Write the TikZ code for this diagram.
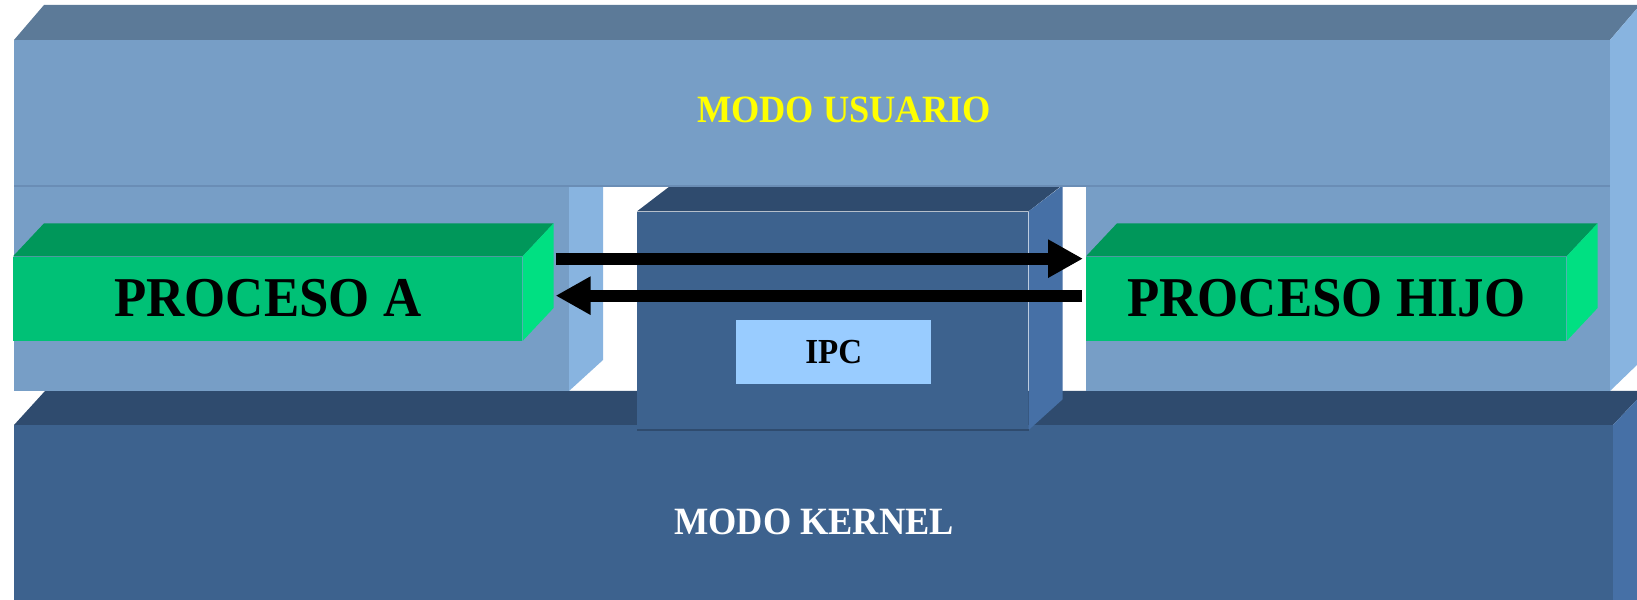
\documentclass[tikz,border=0pt]{standalone}
\usepackage{fontspec}
\setmainfont{Liberation Serif}[FakeStretch=0.94]
\usetikzlibrary{arrows.meta, positioning}

\definecolor{usuFront}{HTML}{779EC6}
\definecolor{usuTop}{HTML}{5C7A98}
\definecolor{usuSide}{HTML}{88B4E0}
\definecolor{usuLinea}{HTML}{6A8DB5}
\definecolor{kerFront}{HTML}{3D628E}
\definecolor{kerTop}{HTML}{2F4B6E}
\definecolor{kerSide}{HTML}{4670A6}
\definecolor{verdeFront}{HTML}{00C176}
\definecolor{verdeTop}{HTML}{00975A}
\definecolor{verdeSide}{HTML}{00E082}
\definecolor{ipcAzul}{HTML}{99CCFF}
\definecolor{amarillo}{HTML}{FFFF00}

\begin{document}
\begin{tikzpicture}[
    x=0.02cm, y=0.02cm,
    every node/.style={font=\bfseries},
    caja/.style={rectangle, inner sep=0pt, anchor=south west},
    proceso/.style={caja, fill=verdeFront, minimum height=1.68cm, font=\bfseries\fontsize{32}{36}\selectfont},
    etiqueta/.style={font=\bfseries\fontsize{22}{26}\selectfont},
    flecha/.style={-{Triangle[length=0.7cm, width=0.72cm]}, line width=0.24cm, black}
]
\fill[white] (0,0) rectangle (1637,599);
\useasboundingbox (0,0) rectangle (1637,599);
\clip (0,0) rectangle (1637,599);

% modo kernel
\fill[kerTop] (14,174) -- (45,208) -- (1645,208) -- (1613,174) -- cycle;
\fill[kerSide] (1613,174) -- (1645,208) -- (1645,-5) -- (1613,-5) -- cycle;
\fill[kerFront] (14,-5) rectangle (1613,174);
\node (kernel) at (814,77) [etiqueta, text=white] {MODO KERNEL};

% bloque IPC
\node (ipc) [caja, fill=kerFront, minimum width=7.82cm, minimum height=4.36cm] at (637,169) {};
\fill[kerTop] (ipc.north west) -- ++(34,26) -- ++(391,0) -- (ipc.north east) -- cycle;
\fill[kerSide] (ipc.north east) -- ++(34,26) -- ++(0,-214) -- (ipc.south east) -- cycle;
\draw[kerTop, line width=1pt] (ipc.south west) -- (ipc.south east);

% modo usuario
\fill[usuTop] (14,559) -- (44,594) -- (1640,594) -- (1610,559) -- cycle;
\fill[usuSide] (1610,559) -- (1640,594) -- (1640,237) -- (1610,208) -- cycle;
\fill[usuFront] (14,413) rectangle (1610,559);
\fill[usuFront] (14,208) rectangle (569,413);
\fill[usuSide] (569,208) -- (569,413) -- (603,413) -- (603,239) -- cycle;
\fill[usuFront] (1086,208) rectangle (1610,413);
\draw[usuLinea, line width=1.5pt] (14,413) -- (1610,413);
\node (usuario) at (844,489) [etiqueta, text=amarillo] {MODO USUARIO};

% procesos
\node (pa) [proceso, minimum width=10.18cm] at (13,258) {PROCESO A};
\node (ph) [proceso, minimum width=9.6cm] at (1086,258) {PROCESO HIJO};
\foreach \p in {pa,ph} {
  \fill[verdeTop] (\p.north west) -- ([shift={(31,33)}]\p.north west)
    -- ([shift={(31,33)}]\p.north east) -- (\p.north east) -- cycle;
  \fill[verdeSide] (\p.north east) -- ([shift={(31,33)}]\p.north east)
    -- ([shift={(31,33)}]\p.south east) -- (\p.south east) -- cycle;
}

% flechas
\draw[flecha] ([shift={(33,40)}]pa.east) -- ([shift={(-3,40)}]ph.west);
\draw[flecha] ([shift={(-4,3)}]ph.west) -- ([shift={(33,3)}]pa.east);

% etiqueta IPC
\node (ipcetq) [caja, fill=ipcAzul, minimum width=3.9cm, minimum height=1.28cm,
    font=\bfseries\fontsize{20}{24}\selectfont] at (736,215) {IPC};
\end{tikzpicture}
\end{document}
